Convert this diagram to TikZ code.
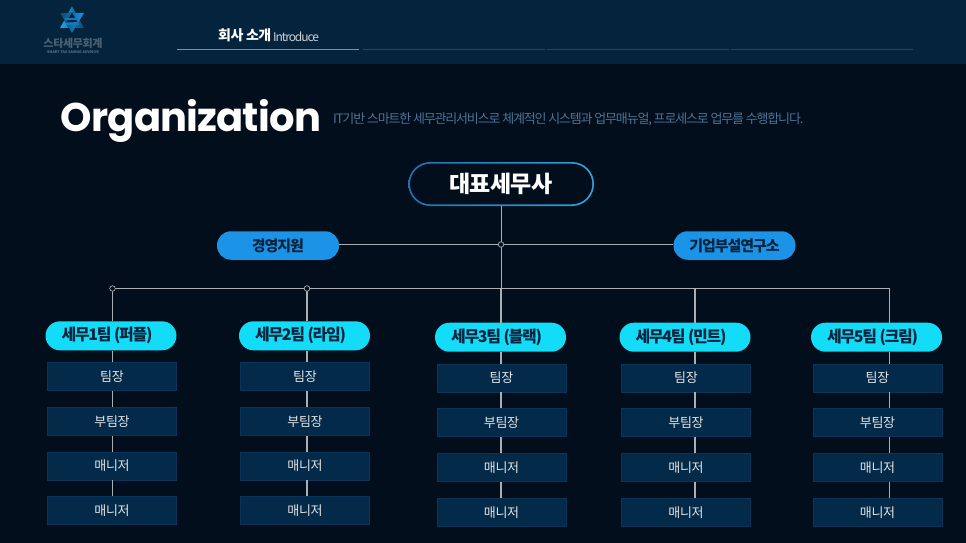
\documentclass[tikz,border=0pt]{standalone}
\usepackage{fontspec}
\setmainfont{Noto Sans CJK KR}
\newfontfamily\titlefont{Poppins}[Scale=1.0]
\usetikzlibrary{calc}
\definecolor{bgc}{HTML}{020E1B}
\definecolor{hdr}{HTML}{04233D}
\definecolor{boxc}{HTML}{032A49}
\definecolor{boxl}{HTML}{0A3558}
\definecolor{cyanc}{HTML}{12DCF8}
\definecolor{bluec}{HTML}{1B93E6}
\definecolor{linec}{HTML}{A9AFB5}
\definecolor{darkt}{HTML}{04233D}
\definecolor{subt}{HTML}{4C7396}
\definecolor{tabon}{HTML}{3FA3DA}
\definecolor{taboff}{HTML}{1C4A6A}
\definecolor{ringl}{HTML}{1F72B2}
\definecolor{ringr}{HTML}{2BA6DC}
\newcommand{\tight}[1]{\addfontfeatures{LetterSpace=#1}}
\tikzset{
 x=1pt,y=-1pt,
 teambox/.style={draw=boxl,line width=0.8pt,fill=boxc,minimum width=129pt,minimum height=28pt,inner sep=0pt,text=white!90!black,font=\fontsize{13}{13}\selectfont\tight{-3}},
 teampill/.style={fill=cyanc,rounded corners=14.5pt,minimum width=131pt,minimum height=29pt,inner sep=0pt,text=darkt,font=\fontsize{16}{16}\selectfont\bfseries\tight{-8}},
 sidepill/.style={fill=bluec,rounded corners=14pt,minimum width=122pt,minimum height=28.5pt,inner sep=0pt,text=darkt,font=\fontsize{15}{15}\selectfont\bfseries\tight{-7}},
 conn/.style={draw=linec,line width=0.8pt},
 connb/.style={draw=linec,line width=1.4pt},
 dotm/.style={circle,draw=linec,line width=0.7pt,fill=bgc,minimum size=5.5pt,inner sep=0pt},
 tabline/.style={line width=1pt,draw=taboff},
}
\begin{document}
\begin{tikzpicture}
\useasboundingbox (0,0) rectangle (966,543);
\fill[bgc] (0,0) rectangle (966,543);
\fill[hdr] (0,0) rectangle (966,64);
% logo
\fill[left color=bluec!80!cyan,right color=bluec!50!black] (72,6) -- (84,28) -- (60,28) -- cycle;
\fill[left color=bluec!50!black,right color=bluec] (60,13) -- (84,13) -- (72,33) -- cycle;
\fill[hdr] (72,12.5) -- (77.5,22) -- (66.5,22) -- cycle;
\draw[bluec!80!black,line width=1.3pt] (65,19) -- (78,19) (66,24) -- (79,24);
\node[inner sep=0pt,text=white!28!hdr,font=\fontsize{11}{11}\selectfont\bfseries\tight{-3}] (logot) at (73,43.5) {스타세무회계};
\node[inner sep=0pt,text=white!35!hdr,font=\fontsize{3.6}{3.6}\selectfont\bfseries] (logos) at (73,52) {SMART TAX SAVING ADVISOR};
% tabs
\fill[tabon] (177,48.6) rectangle (359,50.4);
\draw[tabline] (363,49.5) -- (545,49.5);
\draw[tabline] (547,49.5) -- (729,49.5);
\draw[tabline] (731,49.5) -- (913,49.5);
\node[anchor=base west,inner sep=0pt,text=white,font=\fontsize{14}{14}\selectfont\bfseries\tight{-4}] (tab1) at (218,41) {회사 소개};
\node[anchor=base west,inner sep=0pt,text=white!80!hdr,font=\fontsize{12}{12}\selectfont\tight{-9}] (tab1b) at (273,41.5) {Introduce};
% title
\node[anchor=base west,inner sep=0pt,text=white,font=\fontsize{40}{40}\titlefont\bfseries\tight{-2}] (title) at (60.5,131) {Organization};
\node[anchor=base west,inner sep=0pt,text=subt,font=\fontsize{13}{13}\selectfont\tight{-9}] (sub) at (333,123) {IT기반 스마트한 세무관리서비스로 체계적인 시스템과 업무매뉴얼, 프로세스로 업무를 수행합니다.};
% top node
\shade[left color=ringl,right color=ringr,rounded corners=22pt] (408.3,162) rectangle (594,206);
\fill[bgc,rounded corners=20.5pt] (410,163.7) rectangle (592.3,204.3);
\node[minimum width=185pt,minimum height=44pt,inner sep=0pt,text=white,font=\fontsize{23}{23}\selectfont\bfseries\tight{-3}] (ceo) at (501,184) {대표세무사};
\node[sidepill] (left) at (278,245.5) {경영지원};
\node[sidepill] (right) at (734.5,245.5) {기업부설연구소};
% coordinates
\coordinate (hj) at (501,244.5);
\coordinate (bj) at (501,288.5);
\coordinate (jcta) at (112.5,288.5);
\coordinate (jctb) at (307,288.5);
\coordinate (jctd) at (695,288.5);
\coordinate (jcte) at (889.5,288.5);
% teams
\foreach \id/\cx/\px/\py/\off/\name in {
 a/112/111/335.8/0/세무1팀 (퍼플),
 b/305/304.5/335.8/0/세무2팀 (라임),
 c/501.5/500.5/337.2/1.5/세무3팀 (블랙),
 d/686/685/337.2/1.5/세무4팀 (민트),
 e/877.5/876.5/337.2/1.5/세무5팀 (크림)}{
  \pgfmathsetmacro{\ya}{376.5+\off}
  \pgfmathsetmacro{\yb}{421.3+\off}
  \pgfmathsetmacro{\yc}{466+\off}
  \pgfmathsetmacro{\yd}{510.7+\off}
  \node[teambox] (\id1) at (\cx,\ya) {팀장};
  \node[teambox] (\id2) at (\cx,\yb) {부팀장};
  \node[teambox] (\id3) at (\cx,\yc) {매니저};
  \node[teambox] (\id4) at (\cx,\yd) {매니저};
  \node[teampill] (\id0) at (\px,\py) {\name\hspace*{8pt}};
}
% connectors
\draw[conn] (ceo.south) -- (hj);
\draw[conn] (hj) -- (bj);
\draw[connb] (bj) -- (bj |- c0.north);
\draw[conn] (jcta) -- (jcte);
\draw[conn,line width=1.1pt] (jcta) -- (jcta |- a0.north);
\draw[connb] (jctb) -- (jctb |- b0.north);
\draw[connb] (jctd) -- (jctd |- d0.north);
\draw[conn] (jcte) -- (jcte |- e0.north);
\draw[conn] (left.east |- hj) -- (hj);
\draw[conn] (right.west |- hj) -- (hj);
\node[dotm] (dotc) at (hj) {};
\node[dotm] (dot1) at (jcta) {};
\node[dotm] (dot2) at (jctb) {};
\foreach \id/\lx/\w in {a/112.5/1.1,b/307/1.4,c/501/1.4,d/695/1.4,e/889.5/0.8}{
  \foreach \p/\q in {0/1,1/2,2/3,3/4}{
    \draw[draw=linec,line width=\w pt] (\lx,0 |- \id\p.south) -- (\lx,0 |- \id\q.north);
  }
}
\end{tikzpicture}
\end{document}
